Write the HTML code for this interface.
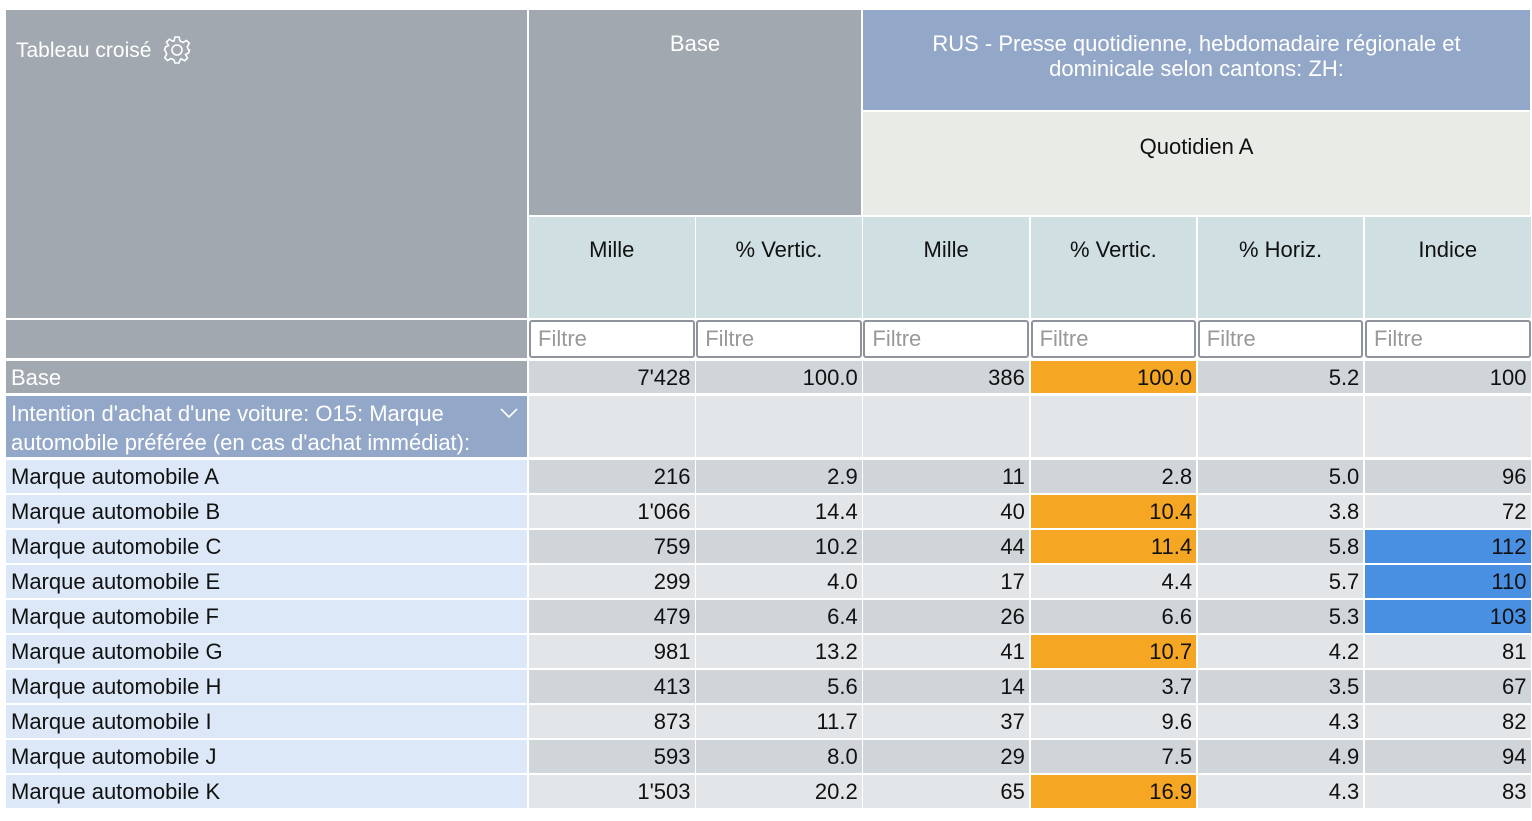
<!DOCTYPE html>
<html><head><meta charset="utf-8">
<style>
body{margin:0;width:1532px;height:821px;background:#fff;font-family:"Liberation Sans",sans-serif;position:relative;overflow:hidden}
.c{position:absolute;box-sizing:border-box;font-size:22px;color:#111;white-space:nowrap}
.num{text-align:right;padding-right:4px;line-height:33px}
.lab{padding-left:5px;line-height:33px}
.hd{text-align:center;color:#111}
.filt{position:absolute;box-sizing:border-box;background:#fff;border:2px solid #8f939b;border-radius:3px;font-size:22px;color:#999;padding-left:7px;line-height:34px}
</style></head><body>
<div class="c" style="left:6px;top:10px;width:521px;height:308px;background:#a1a8af;color:#fff;padding:24px 0 0 10px;font-size:21px">Tableau croisé <svg width="32" height="32" viewBox="0 0 32 32" style="vertical-align:-9px;margin-left:4px"><g fill="none" stroke="#fff" stroke-width="1.6"><circle cx="16" cy="16" r="5"/><path d="M14 3h4l1 4 3 1.5 3.5-2 2.8 2.8-2 3.5L27.5 16l0 0 1 0v0l-1 3-3 1.5-0 0 2 3.5-2.8 2.8-3.5-2L19 26l-1 3h-4l-1-3-3-1.5-3.5 2-2.8-2.8 2-3.5L4.5 17 3.5 16v0l1-3 3-1.5-2-3.5 2.8-2.8 3.5 2L13 7z"/></g></svg></div>
<div class="c" style="left:6px;top:320px;width:521px;height:38px;background:#a1a8af"></div>
<div class="c hd" style="left:529px;top:10px;width:332px;height:205px;background:#a1a8af;color:#fff;padding-top:21px">Base</div>
<div class="c hd" style="left:863px;top:10px;width:667px;height:100px;background:#93a8c8;color:#fff;padding-top:21px;line-height:25px;white-space:normal">RUS - Presse quotidienne, hebdomadaire régionale et<br>dominicale selon cantons: ZH:</div>
<div class="c hd" style="left:863px;top:112px;width:667px;height:103px;background:#e9ebe6;padding-top:22px">Quotidien A</div>
<div class="c" style="left:6px;top:361px;width:521px;height:32px;background:#a1a8af;color:#fff;padding-left:5px;line-height:33px">Base</div>
<div class="c" style="left:6px;top:396px;width:521px;height:61px;background:#93a8c8;color:#fff;padding:3px 0 0 5px;line-height:29px;white-space:normal">Intention d'achat d'une voiture: O15: Marque<br>automobile préférée (en cas d'achat immédiat):<svg width="20" height="12" viewBox="0 0 20 12" style="position:absolute;left:493px;top:11px"><path d="M2 2l8 8 8-8" fill="none" stroke="#fff" stroke-width="1.6"/></svg></div>
<div id="g"></div>
<script>
const colHeads=["Mille","% Vertic.","Mille","% Vertic.","% Horiz.","Indice"];
const rowLabels=["Marque automobile A","Marque automobile B","Marque automobile C","Marque automobile E","Marque automobile F","Marque automobile G","Marque automobile H","Marque automobile I","Marque automobile J","Marque automobile K"];
const baseRow=["7'428","100.0","386","100.0","5.2","100"];
const baseMille=["216","1'066","759","299","479","981","413","873","593","1'503"];
const baseVert=["2.9","14.4","10.2","4.0","6.4","13.2","5.6","11.7","8.0","20.2"];
const qMille=["11","40","44","17","26","41","14","37","29","65"];
const qVert=["2.8","10.4","11.4","4.4","6.6","10.7","3.7","9.6","7.5","16.9"];
const qHoriz=["5.0","3.8","5.8","5.7","5.3","4.2","3.5","4.3","4.9","4.3"];
const qIndice=["96","72","112","110","103","81","67","82","94","83"];
const vertHigh=[false,true,true,false,false,true,false,false,false,true];
const idxHigh=[false,false,true,true,true,false,false,false,false,false];
const g=document.getElementById('g');
const colX=i=>529+i*167.2;
const W=165.5;
function cell(x,y,w,h,bg,txt,cls){const d=document.createElement('div');d.className='c '+cls;d.style.cssText=`left:${x}px;top:${y}px;width:${w}px;height:${h}px;background:${bg}`;d.textContent=txt;g.appendChild(d);return d;}
colHeads.forEach((t,i)=>{
 const d=cell(colX(i),217,W,101,'#d0dfe2',t,'hd');d.style.paddingTop='20px';
 
 
 const f=document.createElement('div');f.className='filt';f.style.cssText=`left:${colX(i)}px;top:320px;width:${W}px;height:38px`;f.textContent='Filtre';
 
 
 g.appendChild(f);
});
baseRow.forEach((v,i)=>{
 const d=cell(colX(i),361,W,32,i==3?'#f5a623':'#d0d5d9',v,'num');
 
 
});
colHeads.forEach((t,i)=>{
 const d=cell(colX(i),396,W,61,'#e2e6e9','','num');
 
 
});
const cols=[baseMille,baseVert,qMille,qVert,qHoriz,qIndice];
rowLabels.forEach((lab,r)=>{
 const y=460+r*35, bg=r%2?'#e2e6e9':'#d0d5d9';
 const l=cell(6,y,521,33,'#dce8f7',lab,'lab');
 
 
 cols.forEach((arr,i)=>{
  let b=bg;if(i==3&&vertHigh[r])b='#f5a623';if(i==5&&idxHigh[r])b='#4a90e2';
  const d=cell(colX(i),y,W,33,b,arr[r],'num');
  
  
 });
});
</script>
</body></html>
